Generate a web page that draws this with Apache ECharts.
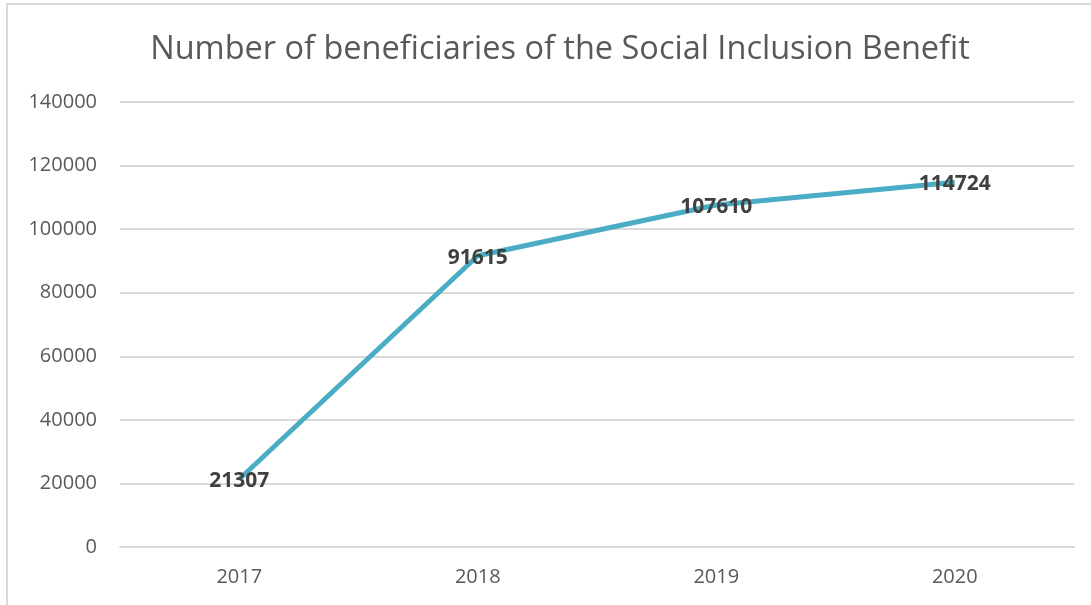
<!DOCTYPE html>
<html>
<head>
<meta charset="utf-8">
<script src="https://cdn.jsdelivr.net/npm/echarts@6/dist/echarts.min.js"></script>
<style>
  html, body { margin: 0; padding: 0; background: #fff; }
  #frame {
    position: absolute; left: 6px; top: 3px; width: 1100px; height: 620px;
    border: 2px solid #d9d9d9; box-sizing: border-box;
  }
  #main { position: absolute; left: 0; top: 0; width: 1091px; height: 605px; }
</style>
</head>
<body>
<div id="frame"></div>
<div id="main"></div>
<script>
// chart data
const years = ['2017', '2018', '2019', '2020'];
const beneficiaries = [21307, 91615, 107610, 114724];

const myChart = echarts.init(document.getElementById('main'));
const option = {
  animation: false,
  title: {
    text: 'Number of beneficiaries of the Social Inclusion Benefit',
    left: 555,
    textAlign: 'center',
    top: 28,
    textStyle: { fontFamily: 'Open Sans', fontWeight: 'normal', fontSize: 32.5, color: '#595959' }
  },
  grid: { left: 120, right: 17, top: 102, bottom: 58 },
  xAxis: {
    type: 'category',
    data: years,
    boundaryGap: true,
    axisLine: { lineStyle: { color: '#d9d9d9', width: 2 } },
    axisTick: { show: false },
    axisLabel: { color: '#595959', fontSize: 20, fontFamily: 'Open Sans', margin: 20 }
  },
  yAxis: {
    type: 'value',
    min: 0,
    max: 140000,
    interval: 20000,
    axisLine: { show: false },
    axisTick: { show: false },
    splitLine: { lineStyle: { color: '#d9d9d9', width: 2 } },
    axisLabel: {
      color: '#595959', fontSize: 20, fontFamily: 'Open Sans', margin: 23,
      formatter: function (v) { return String(v); }
    }
  },
  series: [{
    type: 'line',
    data: beneficiaries,
    symbol: 'circle',
    symbolSize: 1,
    itemStyle: { color: '#4bacc6' },
    lineStyle: { color: '#4bacc6', width: 5 },
    label: {
      show: true,
      position: 'inside',
      offset: [0, 2],
      color: '#404040',
      fontSize: 21,
      fontWeight: 'bold',
      fontFamily: 'Open Sans'
    }
  }]
};
myChart.setOption(option);
</script>
</body>
</html>
